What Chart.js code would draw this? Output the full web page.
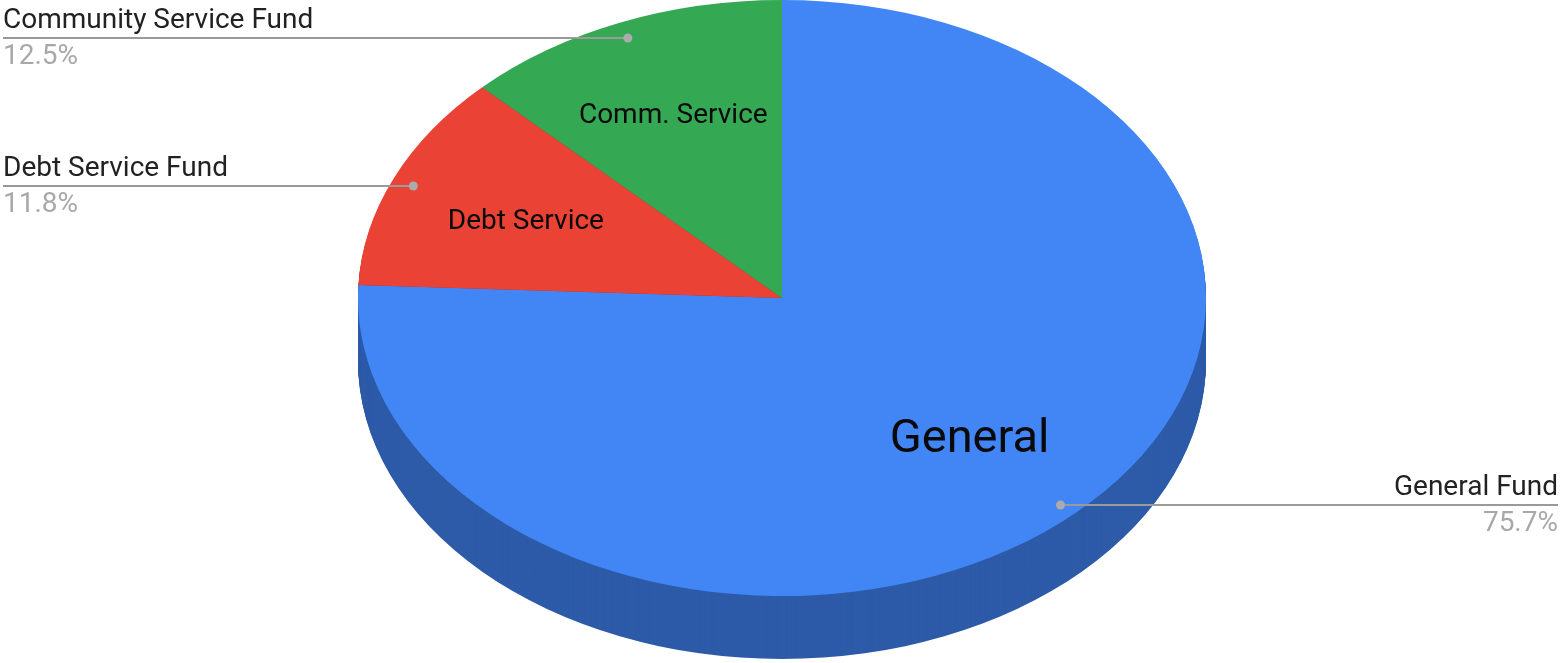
<!DOCTYPE html>
<html>
<head>
<meta charset="utf-8">
<script src="https://cdn.jsdelivr.net/npm/chart.js@4/dist/chart.umd.min.js"></script>
<style>
  html, body { margin: 0; padding: 0; background: #ffffff; }
  #wrap { width: 1567px; height: 663px; position: relative; }
</style>
</head>
<body>
<div id="wrap"><canvas id="pie"></canvas></div>
<script>
// Fund shares (percent of total)
const categories = ['General Fund', 'Debt Service Fund', 'Community Service Fund'];
const sliceLabels = ['General', 'Debt Service', 'Comm. Service'];
const shares = [75.7, 11.8, 12.5];

// Colours for the top face and the extruded side of each slice
const topColors = ['#4285f4', '#ea4335', '#34a853'];
const sideColors = ['#2d5ba8', '#a32e24', '#23753a'];

// Tilted-pie geometry
const W = 1567, H = 663;
const CX = 782;          // centre x of the ellipse
const RX = 424;          // horizontal radius
const RY = 298;          // vertical radius (circle radius before stretching)
const DEPTH = 63;        // height of the side wall
const SX = RX / RY;

const FONT = 'Roboto, "Open Sans", sans-serif';
const innerFontSize = [47, 28, 28];
const innerRadiusFrac = [0.64, 0.66, 0.67];
const dotRadiusFrac = 0.95;

function stretch(ctx) {
  ctx.translate(CX, 0);
  ctx.scale(SX, 1);
  ctx.translate(-CX, 0);
}

const tiltPlugin = {
  id: 'tilt',
  beforeDatasetsDraw(chart) {
    const ctx = chart.ctx;
    const arcs = chart.getDatasetMeta(0).data;
    ctx.save();
    stretch(ctx);
    // side wall: stack of sector copies, deepest first
    for (let d = DEPTH; d >= 1; d--) {
      arcs.forEach((el, i) => {
        const p = el.getProps(['x', 'y', 'startAngle', 'endAngle', 'outerRadius'], true);
        ctx.beginPath();
        ctx.moveTo(p.x, p.y + d);
        ctx.arc(p.x, p.y + d, p.outerRadius, p.startAngle, p.endAngle);
        ctx.closePath();
        ctx.fillStyle = sideColors[i];
        ctx.fill();
      });
    }
  },
  afterDatasetsDraw(chart) {
    chart.ctx.restore();
  },
  afterDraw(chart) {
    const ctx = chart.ctx;
    const arcs = chart.getDatasetMeta(0).data;
    ctx.save();
    arcs.forEach((el, i) => {
      const p = el.getProps(['x', 'y', 'startAngle', 'endAngle', 'outerRadius'], true);
      const mid = (p.startAngle + p.endAngle) / 2;
      const cos = Math.cos(mid), sin = Math.sin(mid);

      // name inside the slice
      const fi = innerRadiusFrac[i];
      const ix = p.x + SX * fi * p.outerRadius * cos;
      const iy = p.y + fi * p.outerRadius * sin;
      const fs = innerFontSize[i];
      ctx.font = fs + 'px ' + FONT;
      ctx.fillStyle = '#0a0a0a';
      ctx.textAlign = 'center';
      ctx.textBaseline = 'alphabetic';
      ctx.fillText(sliceLabels[i], ix, iy + fs * 0.355);

      // leader line, dot and outside labels
      const dx = p.x + SX * dotRadiusFrac * p.outerRadius * cos;
      const dy = Math.round(p.y + dotRadiusFrac * p.outerRadius * sin) + 2;
      const left = dx < p.x;
      const edge = left ? 3 : 1558;
      ctx.strokeStyle = '#9a9a9a';
      ctx.lineWidth = 2;
      ctx.beginPath();
      ctx.moveTo(edge, dy);
      ctx.lineTo(dx, dy);
      ctx.stroke();
      ctx.fillStyle = '#ababab';
      ctx.beginPath();
      ctx.arc(dx, dy, 4.5, 0, Math.PI * 2);
      ctx.fill();

      ctx.textAlign = left ? 'left' : 'right';
      ctx.font = '28px ' + FONT;
      ctx.fillStyle = '#222222';
      ctx.fillText(categories[i], edge, dy - 10);
      ctx.fillStyle = '#a8a8a8';
      ctx.fillText(shares[i].toFixed(1) + '%', edge, dy + 26);
    });
    ctx.restore();
  }
};

new Chart(document.getElementById('pie'), {
  type: 'pie',
  data: {
    labels: categories,
    datasets: [{
      data: shares,
      backgroundColor: topColors,
      borderWidth: 0
    }]
  },
  options: {
    responsive: true,
    maintainAspectRatio: false,
    animation: false,
    events: [],
    layout: {
      padding: { left: CX - RY, right: W - CX - RY, top: 0, bottom: H - 2 * RY }
    },
    plugins: {
      legend: { display: false },
      tooltip: { enabled: false }
    }
  },
  plugins: [tiltPlugin]
});
</script>
</body>
</html>
